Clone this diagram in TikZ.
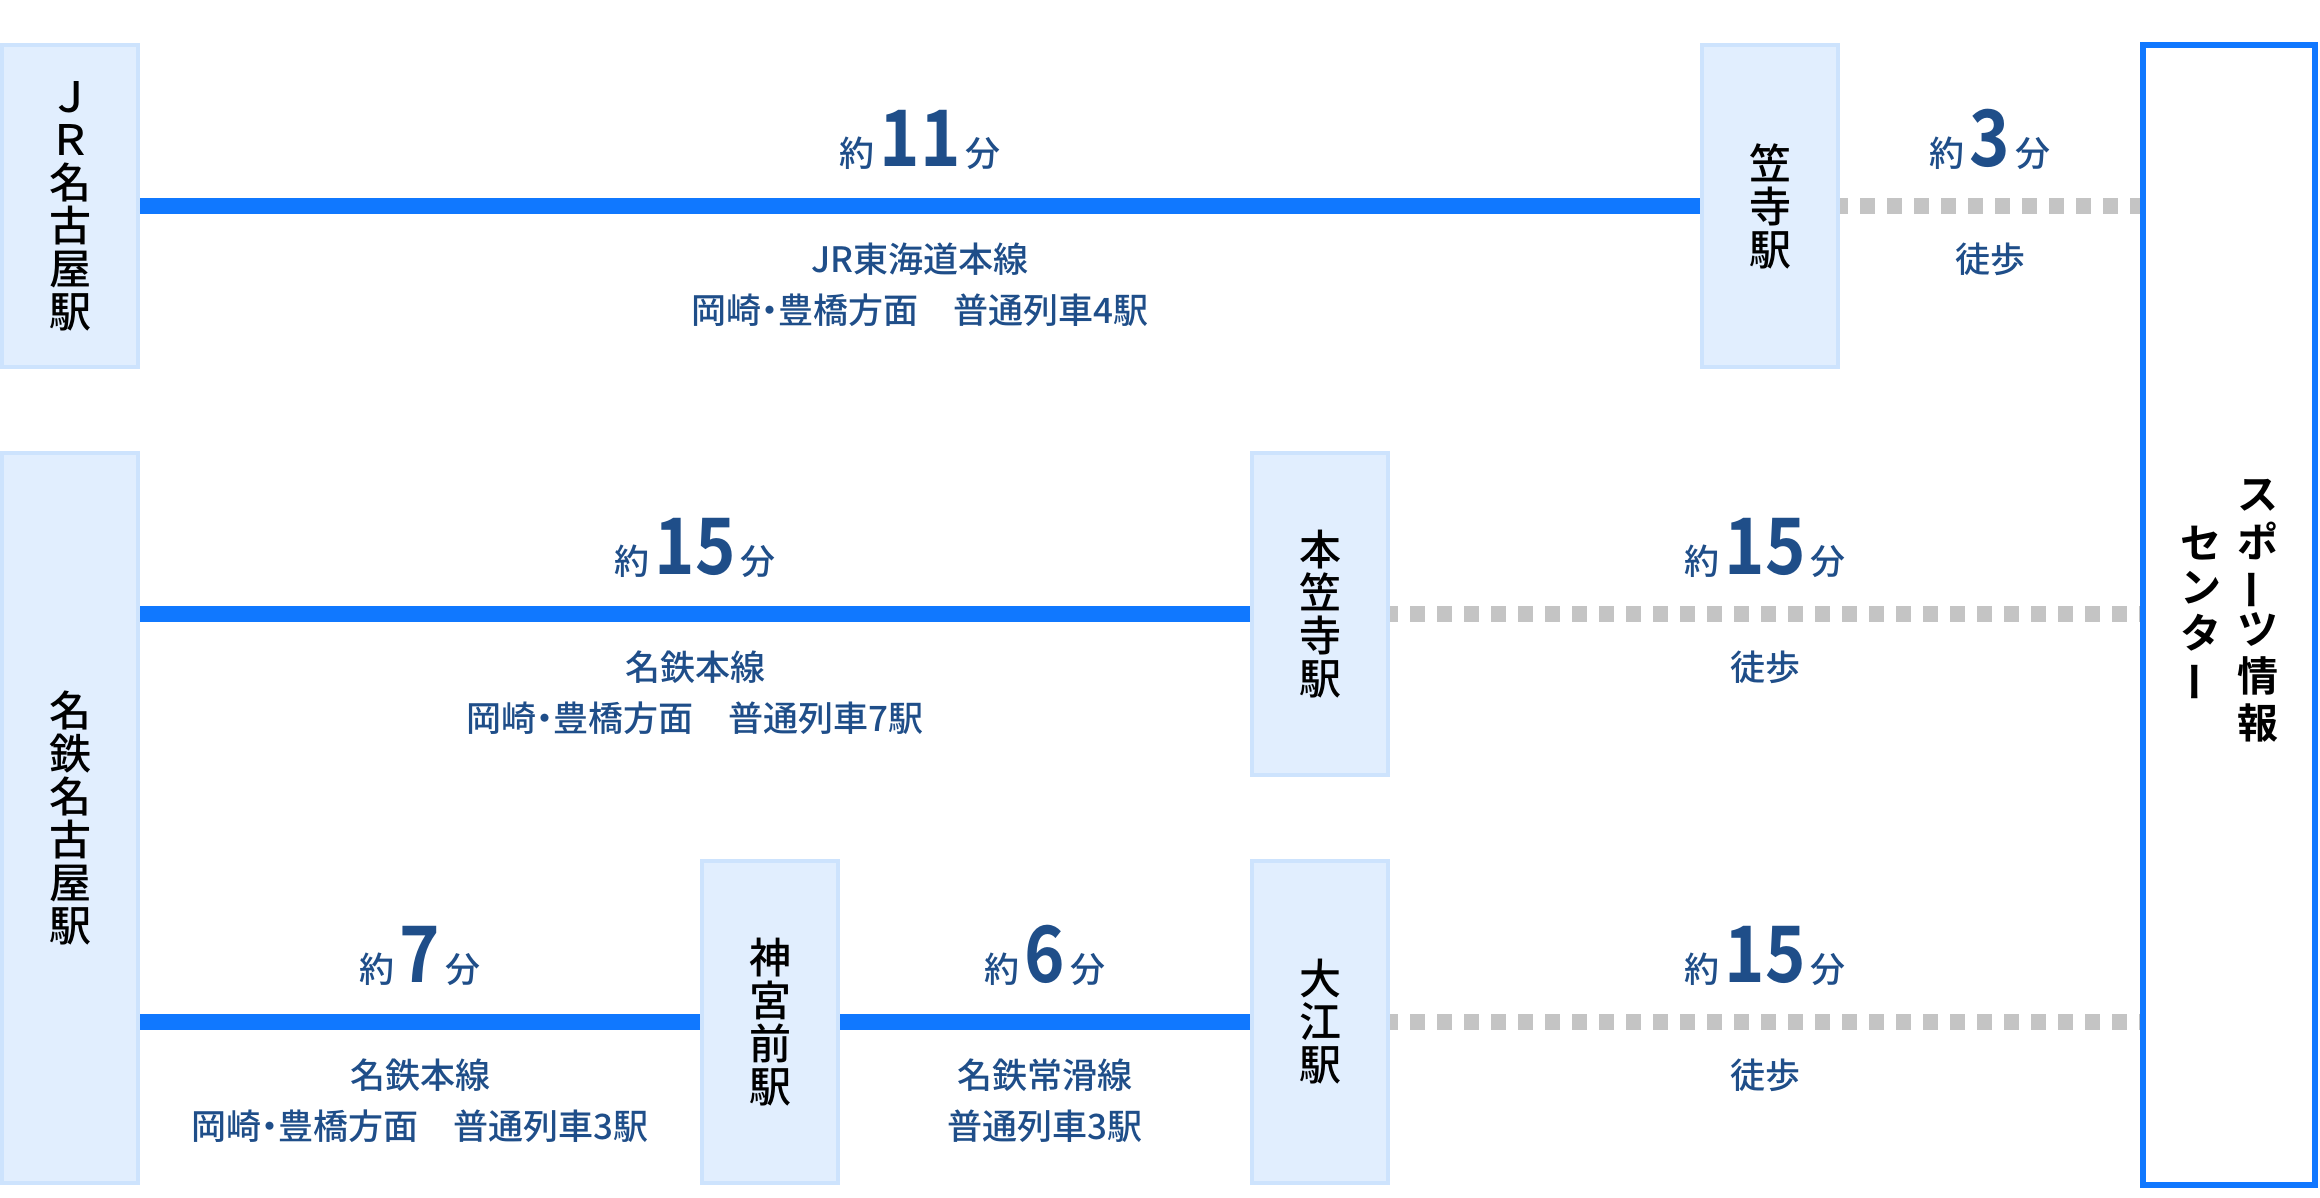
\documentclass[tikz,border=0pt]{standalone}
\usepackage{fontspec}
\usepackage{graphicx}
\usetikzlibrary{positioning}

\setmainfont{Noto Sans CJK JP}
\IfFontExistsTF{Noto Sans CJK JP Medium}
  {\newfontfamily\medfont{Noto Sans CJK JP Medium}
   \newfontfamily\lblfont[RawFeature=+palt]{Noto Sans CJK JP Medium}}
  {\newfontfamily\medfont{Noto Sans CJK JP}
   \newfontfamily\lblfont[RawFeature=+palt]{Noto Sans CJK JP}}
\newfontfamily\numfont[FakeStretch=0.88]{Noto Sans CJK JP Bold}
\newfontfamily\ttlfont{Noto Sans CJK JP Bold}

\definecolor{railblue}{HTML}{1078FF}
\definecolor{boxfill}{HTML}{E1EEFE}
\definecolor{boxline}{HTML}{CDE3FD}
\definecolor{walkgrey}{HTML}{C4C4C4}
\definecolor{textblue}{HTML}{1F4E89}

\newcommand\W{136}
\newcommand\yaku[1]{約\hspace{5pt}{\numfont\fontsize{78}{78}\selectfont #1}\hspace{5pt}分}
\newcommand\chouon{\rotatebox[origin=c]{90}{ー}}

\begin{document}
\begin{tikzpicture}[x=1pt,y=-1pt,inner sep=0pt]

  \tikzstyle{stn}=[rectangle,draw=boxline,fill=boxfill,line width=4pt,
                   minimum width=\W pt,minimum height=322pt,align=center,
                   font=\medfont\fontsize{42}{43}\selectfont]
  \tikzstyle{rail}=[draw=railblue,line width=16pt]
  \tikzstyle{walk}=[draw=walkgrey,line width=16pt,dash pattern=on 15pt off 12pt,
                    dash phase=7pt]
  \tikzstyle{time}=[anchor=base,text=textblue,font=\lblfont\fontsize{35}{35}\selectfont]
  \tikzstyle{note}=[time,align=center,font=\lblfont\fontsize{35}{51}\selectfont]

  \useasboundingbox (0,0) rectangle (2320,1197);

  \node[stn]                       (jr)   at (70,206)    {Ｊ\\Ｒ\\名\\古\\屋\\駅};
  \node[stn]                       (kasa) at (1770,206)  {笠\\寺\\駅};
  \node[stn,minimum height=730pt]  (mm)   at (70,818)    {名\\鉄\\名\\古\\屋\\駅};
  \node[stn]                       (hon)  at (1320,614)  {本\\笠\\寺\\駅};
  \node[stn]                       (jin)  at (770,1022)  {神\\宮\\前\\駅};
  \node[stn]                       (oe)   at (1320,1022) {大\\江\\駅};
  \node[draw=railblue,fill=white,line width=6pt,minimum width=172pt,
        minimum height=1140pt,font=\ttlfont\fontsize{41}{41}\selectfont]
                                   (sc)   at (2229,615)
    {\begin{tabular}{@{}c@{}}セ\\ン\\タ\\\chouon\end{tabular}\hspace{16pt}%
     \begin{tabular}{@{}c@{}}ス\\ポ\\\chouon\\ツ\\情\\報\end{tabular}};

  % rail lines
  \draw[rail] (jr.east) -- (kasa.west);
  \draw[rail] (hon.west -| mm.east) -- (hon.west);
  \draw[rail] (jin.west -| mm.east) -- (jin.west);
  \draw[rail] (jin.east) -- (oe.west);

  % on foot
  \draw[walk] (kasa.east) -- (kasa.east -| sc.west);
  \draw[walk] (hon.east)  -- (hon.east -| sc.west);
  \draw[walk] (oe.east)   -- (oe.east -| sc.west);

  % base of a two-line note is its last line
  \node[time] (t1) at (920,166)  {\yaku{11}};
  \node[note] (n1) at (920,323)  {JR東海道本線\\岡崎・豊橋方面　普通列車4駅};
  \node[time] (w1) at (1990,166) {\yaku{3}};
  \node[time] (f1) at (1990,272) {徒歩};

  \node[time] (t2) at (695,574)  {\yaku{15}};
  \node[note] (n2) at (695,731)  {名鉄本線\\岡崎・豊橋方面　普通列車7駅};
  \node[time] (w2) at (1765,574) {\yaku{15}};
  \node[time] (f2) at (1765,680) {徒歩};

  \node[time] (t3) at (420,982)  {\yaku{7}};
  \node[note] (n3) at (420,1139) {名鉄本線\\岡崎・豊橋方面　普通列車3駅};
  \node[time] (t4) at (1045,982) {\yaku{6}};
  \node[note] (n4) at (1045,1139) {名鉄常滑線\\普通列車3駅};
  \node[time] (w3) at (1765,982) {\yaku{15}};
  \node[time] (f3) at (1765,1088) {徒歩};
\end{tikzpicture}
\end{document}
